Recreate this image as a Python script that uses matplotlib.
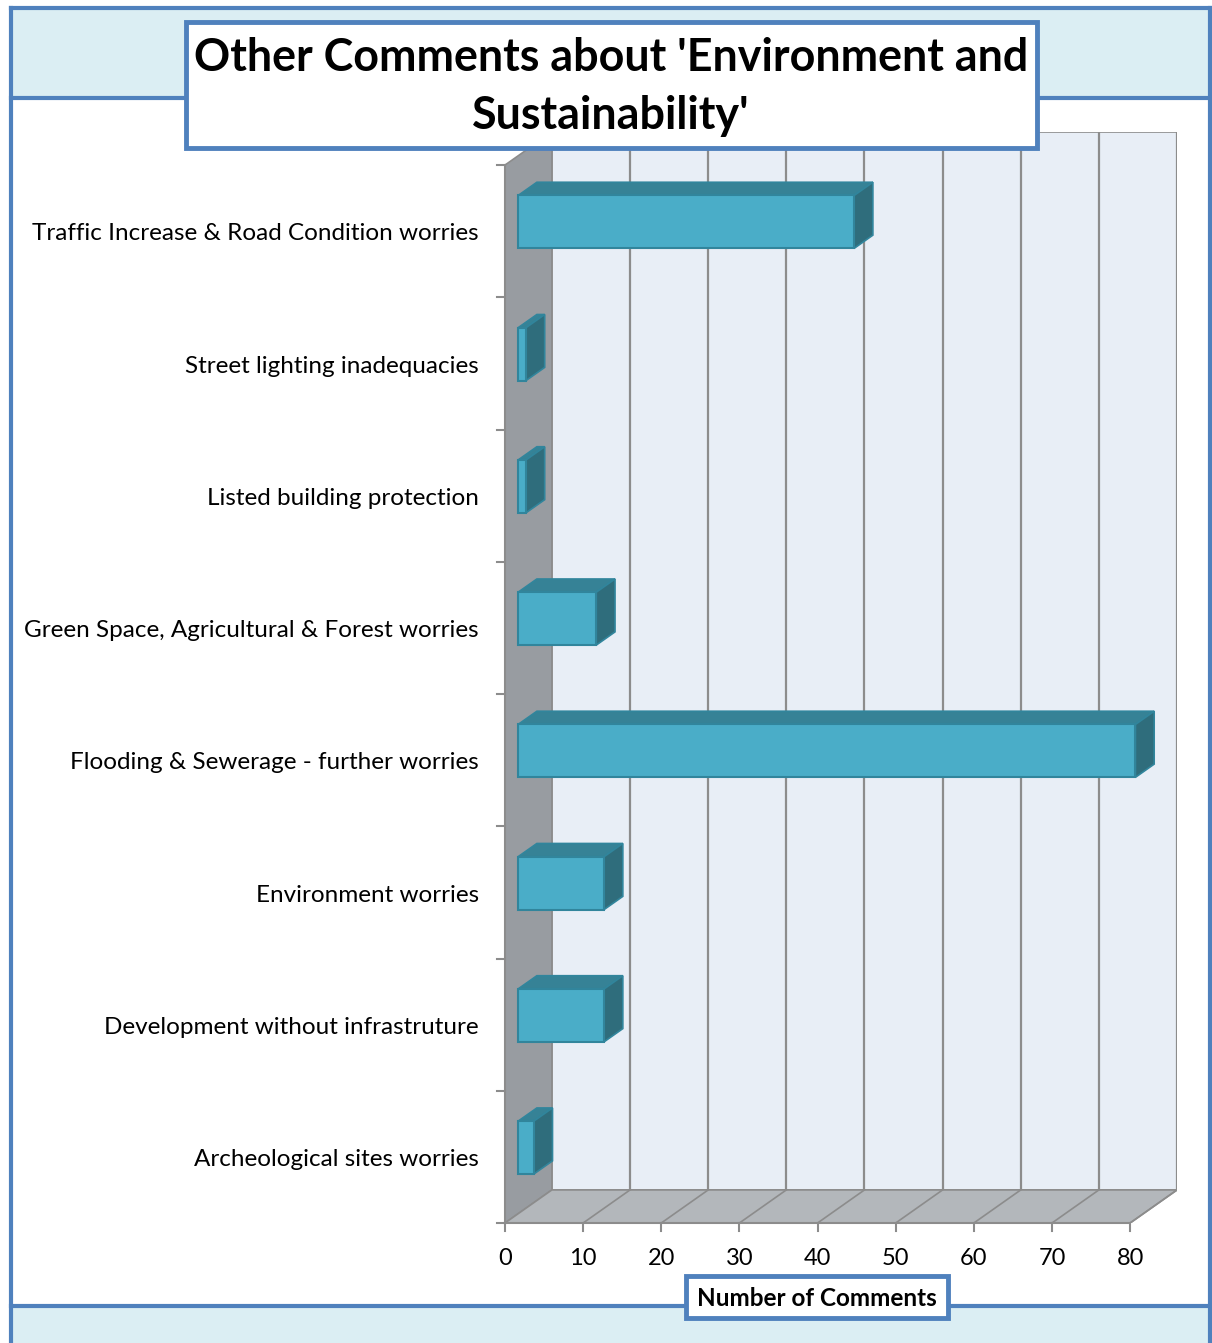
"""3D-style horizontal bar chart: other comments about environment and sustainability."""
import matplotlib
matplotlib.use('Agg')
import matplotlib.pyplot as plt
from matplotlib.patches import Rectangle, Polygon

categories = [
    'Traffic Increase & Road Condition worries',
    'Street lighting inadequacies',
    'Listed building protection',
    'Green Space, Agricultural & Forest worries',
    'Flooding & Sewerage - further worries',
    'Environment worries',
    'Development without infrastruture',
    'Archeological sites worries',
]
counts = [43, 1, 1, 10, 79, 11, 11, 2]
x_ticks = [0, 10, 20, 30, 40, 50, 60, 70, 80]

W, H = 1212, 1343
BLUE = '#4F81BD'
BAND = '#DBEEF3'

plt.rcParams['font.family'] = ['Lato', 'DejaVu Sans']

fig = plt.figure(figsize=(W / 100, H / 100), dpi=100)
fig.patch.set_facecolor('white')


def fx(px):
    return px / W


def fy(py):
    return 1 - py / H


# frame and bands
fig.add_artist(Rectangle((fx(11), fy(98)), fx(1212) - fx(11), fy(8) - fy(98),
                         transform=fig.transFigure, facecolor=BAND, edgecolor='none', zorder=1))
fig.add_artist(Rectangle((fx(11), 0), fx(1212) - fx(11), fy(1306),
                         transform=fig.transFigure, facecolor=BAND, edgecolor='none', zorder=1))
for y in (8, 98, 1306):
    fig.add_artist(plt.Line2D([fx(11), 1], [fy(y), fy(y)], transform=fig.transFigure,
                              color=BLUE, lw=3, zorder=2))
fig.add_artist(plt.Line2D([fx(11), fx(11)], [fy(8), 0], transform=fig.transFigure,
                          color=BLUE, lw=3, zorder=2))
fig.add_artist(plt.Line2D([fx(1210), fx(1210)], [fy(8), 0], transform=fig.transFigure,
                          color=BLUE, lw=3, zorder=2))

# plot area: front plane 0..80, depth offset in data units
depth_x = 6.0
depth_y = 0.25
n = len(categories)
ax = fig.add_axes([fx(505), fy(1223), fx(1177) - fx(505), fy(132) - fy(1223)])
ax.set_zorder(3)
ax.patch.set_alpha(0)
ax.set_xlim(0, 80 + depth_x)
ax.set_ylim(n - 0.5, -0.5 - depth_y)
ax.axis('off')

xmax = x_ticks[-1]
top, bot = -0.5, n - 0.5
# back wall
ax.add_patch(Rectangle((depth_x, top - depth_y), xmax, n, facecolor='#E8EEF6',
                       edgecolor='#8C8C8C', lw=1.2, zorder=1))
# side wall
ax.add_patch(Polygon([(0, top), (depth_x, top - depth_y), (depth_x, bot - depth_y), (0, bot)],
                     closed=True, facecolor='#989CA1', edgecolor='#8C8C8C', lw=1.2, zorder=2))
# floor
ax.add_patch(Polygon([(0, bot), (xmax, bot), (xmax + depth_x, bot - depth_y), (depth_x, bot - depth_y)],
                     closed=True, facecolor='#B3B7BB', edgecolor='#8C8C8C', lw=1.2, zorder=2))
for v in x_ticks[1:]:
    ax.plot([depth_x + v, depth_x + v], [top - depth_y, bot - depth_y], color='#8C8C8C', lw=1.6, zorder=1.5)
    ax.plot([v, v + depth_x], [bot, bot - depth_y], color='#8C8C8C', lw=1.2, zorder=2.5)

# axis lines and ticks
ax.plot([0, 0], [top, bot], color='#8C8C8C', lw=1.5, zorder=3, clip_on=False)
ax.plot([0, xmax], [bot, bot], color='#8C8C8C', lw=1.5, zorder=3, clip_on=False)
tick_dx = 8 / 7.81
for i in range(n + 1):
    ax.plot([-tick_dx, 0], [i - 0.5, i - 0.5], color='#8C8C8C', lw=1.5, clip_on=False)
for v in x_ticks:
    ax.plot([v, v], [bot, bot + 0.06], color='#8C8C8C', lw=1.5, clip_on=False)
    ax.text(v, bot + 0.27, str(v), ha='center', va='center', fontsize=17, color='black')

# bars
d0, d1 = 0.28, 0.68
bh = 0.4
front_col, top_col, side_col, edge_col = '#4AADC8', '#368296', '#2F6D7C', '#31859C'
for i, (label, v) in enumerate(zip(categories, counts)):
    x0 = d0 * depth_x
    yc = i - d0 * depth_y
    yt, yb = yc - bh / 2, yc + bh / 2
    ox, oy = (d1 - d0) * depth_x, (d1 - d0) * depth_y
    ax.add_patch(Polygon([(x0, yt), (x0 + v, yt), (x0 + v + ox, yt - oy), (x0 + ox, yt - oy)],
                         closed=True, facecolor=top_col, edgecolor=edge_col, lw=1.2, zorder=4))
    ax.add_patch(Polygon([(x0 + v, yt), (x0 + v + ox, yt - oy), (x0 + v + ox, yb - oy), (x0 + v, yb)],
                         closed=True, facecolor=side_col, edgecolor=edge_col, lw=1.2, zorder=4))
    ax.barh(yc, v, left=x0, height=bh, color=front_col, edgecolor=edge_col, lw=1.5, zorder=5)
    ax.text(-26 / 7.81, i + 0.02, label, ha='right', va='center', fontsize=17.5, color='black',
            clip_on=False)

# title box
fig.add_artist(Rectangle((fx(186), fy(148)), fx(1037) - fx(186), fy(22) - fy(148),
                         transform=fig.transFigure, facecolor='white', edgecolor=BLUE, lw=3.5,
                         zorder=10))
fig.text(fx(611), fy(58), "Other Comments about 'Environment and", ha='center', va='center',
         fontsize=32.3, fontweight='bold', zorder=11)
fig.text(fx(611), fy(116), "Sustainability'", ha='center', va='center',
         fontsize=32.3, fontweight='bold', zorder=11)

# x-axis title box
fig.add_artist(Rectangle((fx(686), fy(1318)), fx(948) - fx(686), fy(1276) - fy(1318),
                         transform=fig.transFigure, facecolor='white', edgecolor=BLUE, lw=3.5,
                         zorder=10))
fig.text(fx(817), fy(1298), 'Number of Comments', ha='center', va='center',
         fontsize=17.5, fontweight='bold', zorder=11)

fig.savefig('out.png', dpi=100)
